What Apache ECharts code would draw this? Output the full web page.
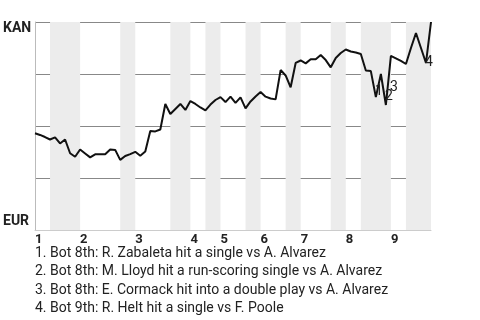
<!DOCTYPE html>
<html>
<head>
<meta charset="utf-8">
<script src="https://cdn.jsdelivr.net/npm/echarts@6/dist/echarts.min.js"></script>
<style>html,body{margin:0;padding:0;background:#fff}#c{width:480px;height:320px}</style>
</head>
<body>
<div id="c"></div>
<script>
// Win probability (1 = KAN, 0 = EUR) after each plate appearance
const winProb = [
  0.465, 0.457, 0.447, 0.435, 0.445, 0.416, 0.435, 0.369, 0.352, 0.387,
  0.368, 0.349, 0.364, 0.364, 0.364, 0.387, 0.385, 0.337, 0.356, 0.365,
  0.376, 0.357, 0.377, 0.476, 0.474, 0.483, 0.606, 0.558, 0.582, 0.606,
  0.577, 0.620, 0.606, 0.589, 0.575, 0.603, 0.625, 0.639, 0.615, 0.641,
  0.611, 0.638, 0.585, 0.618, 0.642, 0.663, 0.641, 0.632, 0.628, 0.769,
  0.743, 0.686, 0.803, 0.815, 0.801, 0.821, 0.821, 0.841, 0.817, 0.782,
  0.827, 0.851, 0.868, 0.858, 0.853, 0.846, 0.767, 0.764, 0.639, 0.750,
  0.601, 0.837, 0.825, 0.813, 0.798, 0.875, 0.947, 0.875, 0.803, 1.000
];
// Half-inning boundaries (plate appearance index)
const inningStarts = [0, 9, 20, 31, 37, 45, 53, 62, 71];
const inningLabels = ['1','2','3','4','5','6','7','8','9'];
const bottomHalfStart = [3, 17, 27, 34, 42, 50, 59, 65, 74];
const bottomHalfEnd   = [9, 20, 31, 37, 45, 53, 62, 71, 79];
const teamTop = 'KAN';
const teamBottom = 'EUR';
// Annotated events
const eventIndex = [68, 70, 71, 78];
const eventMarks = ['1', '2', '3', '4'];
const eventTexts = [
  '1. Bot 8th: R. Zabaleta hit a single vs A. Alvarez',
  '2. Bot 8th: M. Lloyd hit a run-scoring single vs A. Alvarez',
  '3. Bot 8th: E. Cormack hit into a double play vs A. Alvarez',
  '4. Bot 9th: R. Helt hit a single vs F. Poole'
];

const lineData = winProb.map((v, i) => [i, v]);
const bands = bottomHalfStart.map((s, i) => [{xAxis: s}, {xAxis: bottomHalfEnd[i]}]);
const eventPts = eventIndex.map((k, i) => ({
  name: 'ev' + i,
  coord: [k - 0.5, (winProb[k - 1] + winProb[k]) / 2],
  label: {formatter: () => eventMarks[i]}
}));

const chart = echarts.init(document.getElementById('c'), null, {renderer: 'canvas'});
chart.setOption({
  animation: false,
  textStyle: {fontFamily: 'Roboto'},
  title: {
    text: eventTexts.join('\n'),
    left: 35, top: 244, padding: 0,
    textStyle: {fontFamily: 'Roboto', fontSize: 14, fontWeight: 'normal', color: '#222', lineHeight: 18.5}
  },
  grid: {left: 35, right: 49, top: 22, bottom: 90},
  xAxis: {
    type: 'value', min: 0, max: winProb.length - 1,
    axisLine: {show: true, lineStyle: {color: '#ccc', width: 1}},
    axisTick: {show: false},
    splitLine: {show: false},
    axisLabel: {
      customValues: inningStarts,
      formatter: v => inningLabels[inningStarts.indexOf(v)] || '',
      align: 'left', margin: 3,
      fontFamily: 'Roboto', fontSize: 13, fontWeight: 'bold', color: '#222'
    }
  },
  yAxis: {
    type: 'value', min: 0, max: 1, interval: 0.25,
    axisLine: {show: true, lineStyle: {color: '#bbb', width: 1}},
    axisTick: {show: false},
    splitLine: {show: true, lineStyle: {color: ['#ccc', '#888', '#888', '#888', '#888'], width: 1}},
    axisLabel: {
      align: 'left', margin: 32,
      formatter: v => v === 1 ? '{t|' + teamTop + '}' : (v === 0 ? '{b|' + teamBottom + '}' : ''),
      rich: {
        t: {fontFamily: 'Roboto', fontSize: 14, fontWeight: 'bold', color: '#222', padding: [13, 0, 0, 0]},
        b: {fontFamily: 'Roboto', fontSize: 14, fontWeight: 'bold', color: '#222', padding: [0, 0, 18, 0]}
      }
    }
  },
  series: [
    {
      type: 'line', data: [], z: -1, silent: true,
      markArea: {silent: true, itemStyle: {color: '#ececec'}, data: bands}
    },
    {
      type: 'line', data: lineData, symbol: 'none', z: 3,
      lineStyle: {color: '#111', width: 2},
      labelLayout: {hideOverlap: false},
      markPoint: {
        silent: true, z: 10,
        symbol: 'circle', symbolSize: 1,
        itemStyle: {color: 'rgba(0,0,0,0)'},
        label: {show: true, position: 'inside', offset: [5.5, 7],
          fontFamily: 'Roboto', fontSize: 14, color: '#222'},
        data: eventPts
      }
    }
  ]
});
</script>
</body>
</html>
